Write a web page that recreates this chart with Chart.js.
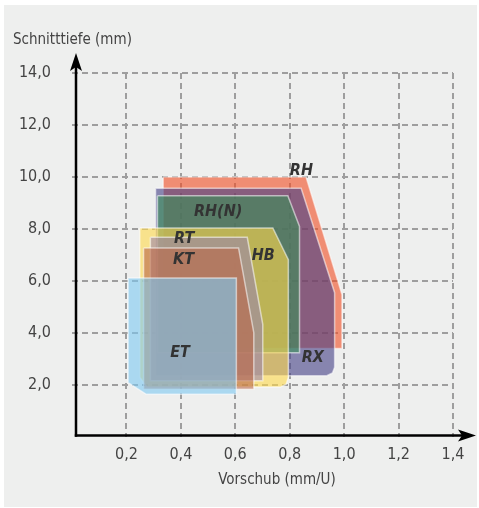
<!DOCTYPE html>
<html>
<head>
<meta charset="utf-8">
<script src="https://cdn.jsdelivr.net/npm/chart.js@4"></script>
<style>
  html, body { margin: 0; padding: 0; background: #fff; }
  #chart { display: block; }
</style>
</head>
<body>
<canvas id="chart" width="479" height="508"></canvas>
<script>
// operating windows per insert geometry: feed (mm/U) vs depth of cut (mm)
const etX = [0.206, 0.604, 0.604, 0.273, 0.206];
const etY = [6.12, 6.12, 1.64, 1.64, 2.09];

const ktX = [0.263, 0.612, 0.668, 0.668, 0.263];
const ktY = [7.27, 7.27, 4.01, 1.84, 1.84];

const rtX = [0.288, 0.644, 0.701, 0.701, 0.288];
const rtY = [7.68, 7.68, 4.33, 2.16, 2.16];

const hbX = [0.249, 0.738, 0.795, 0.795, 0.787, 0.766, 0.275, 0.249];
const hbY = [8.04, 8.04, 6.82, 2.3, 2.03, 1.92, 1.92, 2.3];

const rhnX = [0.314, 0.793, 0.836, 0.836, 0.314];
const rhnY = [9.28, 9.28, 8.1, 3.24, 3.24];

const rxX = [0.307, 0.842, 0.965, 0.965, 0.957, 0.936, 0.307];
const rxY = [9.57, 9.57, 5.55, 2.68, 2.46, 2.36, 2.36];

const rhX = [0.335, 0.86, 0.992, 0.992, 0.335];
const rhY = [10.0, 10.0, 5.48, 3.4, 3.4];

const names = ['ET', 'KT', 'RT', 'HB', 'RH(N)', 'RX', 'RH'];
const fills = [
  'rgba(125,200,242,0.6)',
  'rgba(185,102,72,0.6)',
  'rgba(155,133,172,0.6)',
  'rgba(255,217,75,0.6)',
  'rgba(56,144,87,0.6)',
  'rgba(66,62,134,0.6)',
  'rgba(241,75,33,0.6)'
];
// where each name sits (data units)
const labelX = [0.397, 0.41, 0.412, 0.703, 0.537, 0.885, 0.843];
const labelY = [3.24, 6.8, 7.63, 6.95, 8.67, 3.03, 10.23];

const xTicks = [0.2, 0.4, 0.6, 0.8, 1.0, 1.2, 1.4];
const yTicks = [2, 4, 6, 8, 10, 12, 14];

const fontFamily = "'DejaVu Sans Condensed', 'Roboto', 'Liberation Sans', sans-serif";
Chart.defaults.font.family = fontFamily;

function toPoints(xs, ys) {
  const pts = xs.map((x, i) => ({ x: x, y: ys[i] }));
  pts.push(pts[0]); // close outline
  return pts;
}

const shapes = [[etX, etY], [ktX, ktY], [rtX, rtY], [hbX, hbY], [rhnX, rhnY], [rxX, rxY], [rhX, rhY]];

const datasets = shapes.map((s, i) => ({
  label: names[i],
  data: toPoints(s[0], s[1]),
  fill: 'shape',
  backgroundColor: fills[i],
  borderColor: 'rgba(255,255,255,0.55)',
  borderWidth: 1.5,
  pointRadius: 0,
  tension: 0,
  order: i
}));

function fmt(v) {
  return v.toFixed(1).replace('.', ',');
}

function arrow(ctx, x1, y1, x2, y2) {
  const ang = Math.atan2(y2 - y1, x2 - x1);
  const len = 18, half = 6, back = 4;
  ctx.beginPath();
  ctx.moveTo(x1, y1);
  ctx.lineTo(x2 - Math.cos(ang) * 10, y2 - Math.sin(ang) * 10);
  ctx.stroke();
  ctx.save();
  ctx.translate(x2, y2);
  ctx.rotate(ang);
  ctx.beginPath();
  ctx.moveTo(0, 0);
  ctx.lineTo(-len, -half);
  ctx.lineTo(-len + back, 0);
  ctx.lineTo(-len, half);
  ctx.closePath();
  ctx.fill();
  ctx.restore();
}

const decor = {
  id: 'decor',
  beforeDraw(chart) {
    const ctx = chart.ctx;
    ctx.save();
    ctx.fillStyle = '#ffffff';
    ctx.fillRect(0, 0, chart.width, chart.height);
    ctx.fillStyle = '#eeefee';
    ctx.fillRect(4, 5, 473, 502);
    ctx.restore();
  },
  afterDatasetsDraw(chart) {
    const ctx = chart.ctx;
    const xs = chart.scales.x, ys = chart.scales.y;
    const a = chart.chartArea;

    // axes with arrow heads
    ctx.save();
    ctx.strokeStyle = '#000';
    ctx.fillStyle = '#000';
    ctx.lineWidth = 2.5;
    const ox = a.left + 4, oy = a.bottom - 1.5;
    arrow(ctx, ox, oy + 1.2, ox, 53);
    arrow(ctx, ox - 1.2, oy, 476, oy);
    ctx.restore();

    // shape names
    ctx.save();
    ctx.font = 'italic bold 16px ' + fontFamily;
    ctx.fillStyle = '#333';
    ctx.textAlign = 'center';
    ctx.textBaseline = 'middle';
    names.forEach((n, i) => {
      ctx.fillText(n, xs.getPixelForValue(labelX[i]), ys.getPixelForValue(labelY[i]));
    });
    ctx.restore();

    // axis titles
    ctx.save();
    ctx.font = '15px ' + fontFamily;
    ctx.fillStyle = '#444';
    ctx.textBaseline = 'middle';
    ctx.textAlign = 'left';
    ctx.fillText('Schnitttiefe (mm)', 13, 40);
    ctx.textAlign = 'center';
    ctx.fillText('Vorschub (mm/U)', 277, 480);
    ctx.restore();
  }
};

new Chart(document.getElementById('chart'), {
  type: 'line',
  data: { datasets: datasets },
  options: {
    responsive: false,
    devicePixelRatio: 1,
    animation: false,
    layout: { padding: { top: 73, right: 26, left: 4, bottom: 0 } },
    plugins: {
      legend: { display: false },
      tooltip: { enabled: false }
    },
    scales: {
      x: {
        type: 'linear',
        min: 0,
        max: 1.4,
        afterFit: s => { s.height = 71; },
        afterBuildTicks: s => { s.ticks = [{ value: 0 }].concat(xTicks.map(v => ({ value: v }))); },
        ticks: {
          padding: 8,
          color: '#444',
          font: { size: 16 },
          maxRotation: 0,
          autoSkip: false,
          callback: v => v === 0 ? '' : fmt(v)
        },
        grid: {
          drawTicks: false,
          lineWidth: 2,
          color: c => c.tick && c.tick.value === 0 ? 'rgba(0,0,0,0)' : '#9e9e9e'
        },
        border: { display: false, dash: [6, 4] }
      },
      y: {
        type: 'linear',
        min: 0,
        max: 14,
        afterFit: s => { s.width = 68; },
        afterBuildTicks: s => { s.ticks = [{ value: 0 }].concat(yTicks.map(v => ({ value: v }))); },
        ticks: {
          padding: 21,
          color: '#444',
          font: { size: 16 },
          autoSkip: false,
          callback: v => v === 0 ? '' : fmt(v)
        },
        grid: {
          drawTicks: false,
          lineWidth: 2,
          color: c => c.tick && c.tick.value === 0 ? 'rgba(0,0,0,0)' : '#9e9e9e'
        },
        border: { display: false, dash: [6, 4] }
      }
    }
  },
  plugins: [decor]
});
</script>
</body>
</html>
